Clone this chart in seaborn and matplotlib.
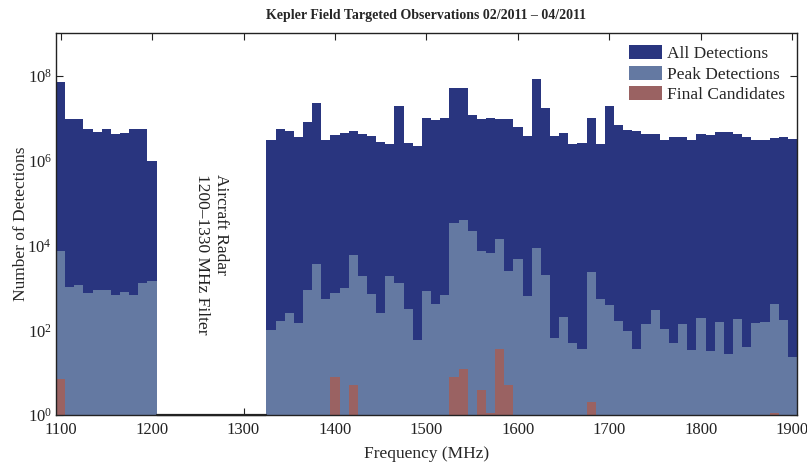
import numpy as np
import pandas as pd
import seaborn as sns
import matplotlib.pyplot as plt
from matplotlib.patches import Patch
from matplotlib.ticker import FixedLocator, LogFormatterMathtext, NullLocator

# bin centres (MHz), 10 MHz bins; 1210-1320 blanked by the radar filter
freq_low = list(range(1100, 1201, 10))
freq_high = list(range(1330, 1901, 10))
freq = freq_low + freq_high

all_det = [7.2e7, 9.5e6, 9.3e6, 5.6e6, 4.7e6, 5.6e6, 4.1e6, 4.5e6, 5.6e6, 5.6e6, 9.8e5,
           3.1e6, 5.5e6, 5.0e6, 3.6e6, 8.1e6, 2.3e7, 3.0e6, 4.0e6, 4.4e6, 4.9e6,
           4.2e6, 3.8e6, 2.8e6, 2.5e6, 1.95e7, 2.6e6, 2.2e6, 9.8e6, 8.9e6, 1.0e7,
           5.0e7, 5.0e7, 1.2e7, 9.5e6, 1.0e7, 9.3e6, 9.3e6, 6.2e6, 3.8e6, 8.3e7,
           1.7e7, 3.8e6, 4.4e6, 2.4e6, 2.6e6, 1.0e7, 2.5e6, 1.9e7, 6.9e6, 5.1e6,
           5.0e6, 4.2e6, 4.2e6, 3.1e6, 3.5e6, 3.5e6, 3.1e6, 4.3e6, 4.0e6, 4.7e6,
           4.6e6, 4.3e6, 3.5e6, 3.0e6, 3.1e6, 3.4e6, 3.6e6, 3.2e6]

peak_det = [7400, 1070, 1170, 760, 890, 910, 680, 790, 680, 1320, 1410,
            100, 166, 257, 148, 912, 3630, 537, 759, 977, 5890,
            1950, 724, 257, 1950, 1290, 316, 60, 832, 417, 661,
            33100, 38900, 21400, 7410, 6460, 14100, 2510, 4680, 646, 8510,
            2000, 65, 200, 50, 36, 2340, 537, 389, 166, 95,
            36, 141, 295, 110, 51, 141, 35, 195, 32, 158,
            28, 182, 41, 145, 155, 427, 178, 23]

cand_freq = [1100, 1400, 1420, 1530, 1540, 1560, 1570, 1580, 1590, 1680, 1880]
cand_det = [7, 8, 5, 8, 12, 4, 1.1, 36, 5, 2, 1.1]

labels = ['All Detections', 'Peak Detections', 'Final Candidates']
colors = ['#29357f', '#6479a2', '#9a6262']

sns.set_theme(style='ticks')
plt.rcParams['font.family'] = 'serif'
plt.rcParams['font.serif'] = ['Liberation Serif', 'DejaVu Serif']
plt.rcParams['mathtext.fontset'] = 'stix'

fig, ax = plt.subplots(figsize=(8.07, 4.67), dpi=100)
fig.subplots_adjust(left=0.0694, right=0.9876, top=0.929, bottom=0.111)

edges = [float(e) for e in np.arange(1095, 1906, 10)]
frames = [
    pd.DataFrame({'freq': freq, 'n': all_det}),
    pd.DataFrame({'freq': freq, 'n': peak_det}),
    pd.DataFrame({'freq': cand_freq, 'n': cand_det}),
]
for df, c in zip(frames, colors):
    sns.histplot(data=df, x='freq', weights='n', bins=edges, color=c, alpha=1,
                 linewidth=0, ax=ax, legend=False)

ax.set_yscale('log')
ax.set_ylim(1, 1e9)
ax.set_xlim(1095, 1905)

# zero-count bins inside the filter band show as a flat line at the floor
gap_lo = max(freq_low) + 5
gap_hi = min(freq_high) - 5
ax.plot([gap_lo, gap_hi], [1, 1], color='#222222', lw=1.6, clip_on=False, zorder=3)

ax.set_axisbelow(True)
ax.yaxis.set_major_locator(FixedLocator([10.0 ** k for k in range(0, 9, 2)]))
ax.yaxis.set_major_formatter(LogFormatterMathtext())
ax.yaxis.set_minor_locator(NullLocator())
ax.set_xticks(range(1100, 1901, 100))
ax.tick_params(direction='in', top=True, right=True, length=5, width=0.8,
               labelsize=12, pad=3, colors='#222222')
ax.tick_params(axis='x', pad=5)
for s in ax.spines.values():
    s.set_linewidth(1.0)
    s.set_color('#222222')

ax.set_xlabel('Frequency (MHz)', fontsize=12.5, labelpad=6)
ax.set_ylabel('Number of Detections', fontsize=12.5, labelpad=-1)
ax.set_title('Kepler Field Targeted Observations 02/2011 \u2013 04/2011',
             fontsize=10, fontweight='bold', pad=10)

ax.text((gap_lo + gap_hi) / 2, 10 ** 3.8, 'Aircraft Radar\n1200\u20131330 MHz Filter',
        rotation=270, ha='center', va='center', multialignment='left',
        fontsize=12.5, color='#222222', linespacing=1.2)

handles = [Patch(facecolor=c, edgecolor='none') for c in colors]
ax.legend(handles, labels, loc='upper right', frameon=False, fontsize=12.5,
          handlelength=1.9, handleheight=0.85, handletextpad=0.3,
          labelspacing=0.2, borderaxespad=0.3)

fig.savefig('out.png', dpi=100)
